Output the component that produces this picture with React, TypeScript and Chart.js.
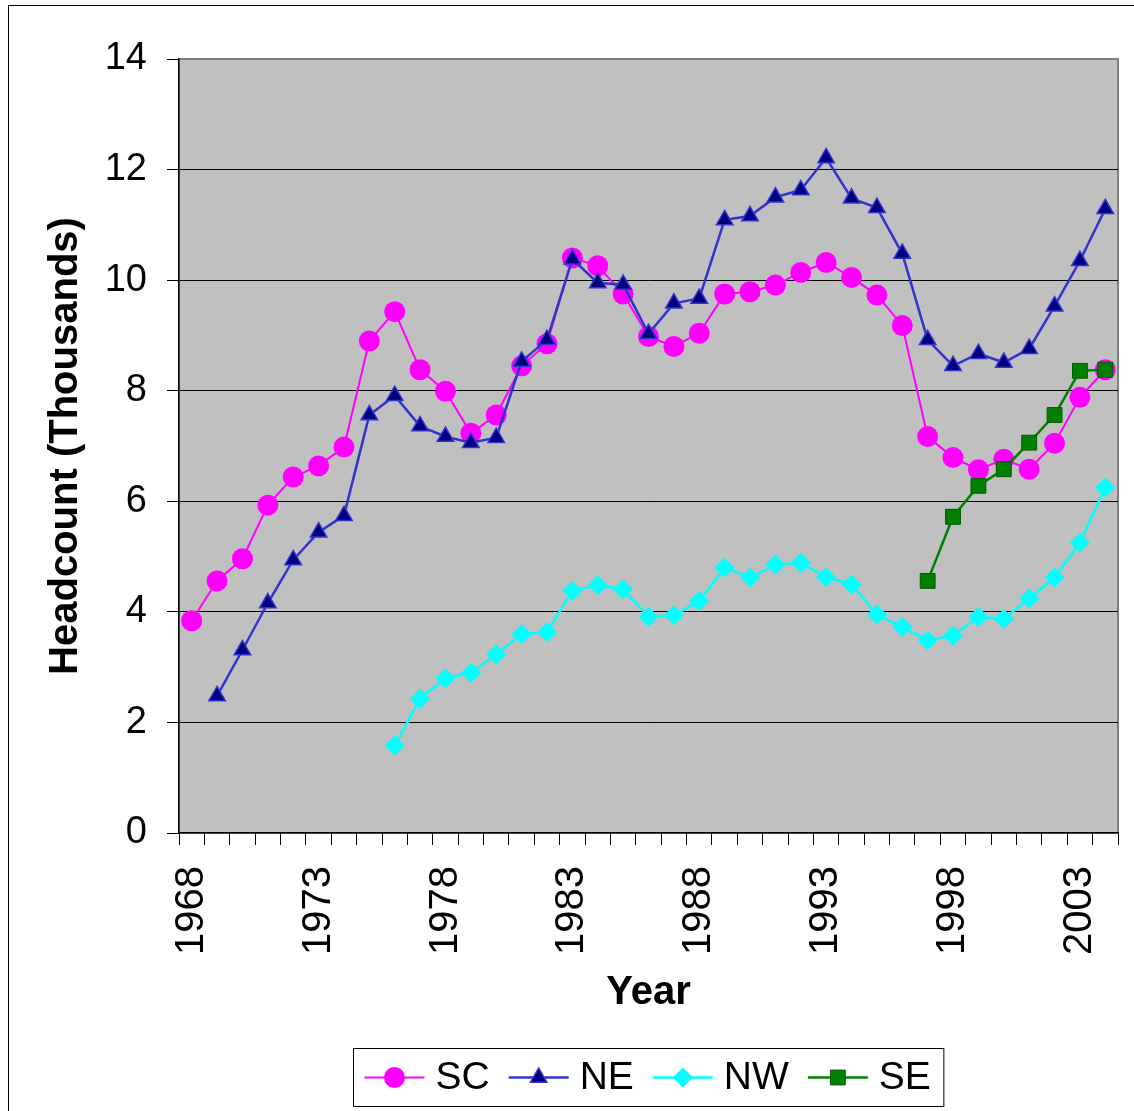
import React, { useEffect, useRef } from 'react';
import { Chart, registerables } from 'chart.js';

Chart.register(...registerables);

const years = [
  '1968', '1969', '1970', '1971', '1972', '1973', '1974', '1975', '1976', '1977',
  '1978', '1979', '1980', '1981', '1982', '1983', '1984', '1985', '1986', '1987',
  '1988', '1989', '1990', '1991', '1992', '1993', '1994', '1995', '1996', '1997',
  '1998', '1999', '2000', '2001', '2002', '2003', '2004',
];

const scValues = [
  3.84, 4.56, 4.96, 5.93, 6.44, 6.64, 6.98, 8.9, 9.43, 8.38,
  7.99, 7.23, 7.56, 8.45, 8.85, 10.4, 10.26, 9.75, 8.98, 8.8,
  9.04, 9.75, 9.79, 9.91, 10.14, 10.32, 10.05, 9.73, 9.18, 7.17,
  6.79, 6.57, 6.76, 6.58, 7.05, 7.88, 8.38,
];

const neValues = [
  null, 2.48, 3.31, 4.16, 4.94, 5.44, 5.74, 7.56, 7.91, 7.36,
  7.17, 7.06, 7.15, 8.53, 8.92, 10.38, 9.95, 9.92, 9.03, 9.58,
  9.67, 11.09, 11.16, 11.5, 11.63, 12.21, 11.48, 11.31, 10.48, 8.92,
  8.45, 8.67, 8.51, 8.76, 9.53, 10.35, 11.29,
];

const nwValues = [
  null, null, null, null, null, null, null, null, 1.58, 2.43,
  2.8, 2.9, 3.23, 3.6, 3.63, 4.38, 4.48, 4.41, 3.91, 3.94,
  4.19, 4.8, 4.62, 4.85, 4.89, 4.63, 4.5, 3.95, 3.73, 3.48,
  3.57, 3.91, 3.87, 4.24, 4.62, 5.25, 6.25,
];

const seValues = [
  null, null, null, null, null, null, null, null, null, null,
  null, null, null, null, null, null, null, null, null, null,
  null, null, null, null, null, null, null, null, null, 4.56,
  5.72, 6.28, 6.58, 7.06, 7.56, 8.36, 8.38,
];

const seriesLabels = ['SC', 'NE', 'NW', 'SE'];
const yTickValues = [0, 2, 4, 6, 8, 10, 12, 14];
const yTitle = 'Headcount (Thousands)';
const xTitle = 'Year';

const FONT = '"Liberation Sans", Arial, Helvetica, sans-serif';

function drawMarker(ctx: CanvasRenderingContext2D, style: string, x: number, y: number, r: number,
  fill: string, stroke: string, bw: number) {
  ctx.save();
  ctx.beginPath();
  if (style === 'circle') {
    ctx.arc(x, y, r, 0, Math.PI * 2);
  } else if (style === 'triangle') {
    for (let i = 0; i < 3; i++) {
      const a = (i * 2 * Math.PI) / 3;
      const px = x + Math.sin(a) * r;
      const py = y - Math.cos(a) * r;
      if (i === 0) ctx.moveTo(px, py); else ctx.lineTo(px, py);
    }
    ctx.closePath();
  } else if (style === 'rectRot') {
    ctx.moveTo(x, y - r);
    ctx.lineTo(x + r, y);
    ctx.lineTo(x, y + r);
    ctx.lineTo(x - r, y);
    ctx.closePath();
  } else {
    const s = r * Math.SQRT1_2;
    ctx.rect(x - s, y - s, 2 * s, 2 * s);
  }
  ctx.fillStyle = fill;
  ctx.fill();
  if (bw > 0) {
    ctx.lineWidth = bw;
    ctx.strokeStyle = stroke;
    ctx.stroke();
  }
  ctx.restore();
}

const plotBgPlugin = {
  id: 'plotBg',
  beforeDraw(chart: any) {
    const { ctx, chartArea } = chart;
    const { left, top, right, bottom } = chartArea;
    ctx.save();
    ctx.fillStyle = '#FFFFFF';
    ctx.fillRect(0, 0, chart.width, chart.height);
    ctx.fillStyle = '#C0C0C0';
    ctx.fillRect(left, top, right - left, bottom - top);
    ctx.strokeStyle = '#808080';
    ctx.lineWidth = 2;
    ctx.strokeRect(left, top, right - left, bottom - top);
    ctx.restore();
  },
  afterDraw(chart: any) {
    const { ctx } = chart;
    ctx.save();
    ctx.strokeStyle = '#000000';
    ctx.lineWidth = 1;
    ctx.strokeRect(8.5, 5.5, chart.width + 20, chart.height + 20);
    ctx.restore();
  },
};

const boxLegendPlugin = {
  id: 'boxLegend',
  afterDraw(chart: any) {
    const { ctx, chartArea } = chart;
    const datasets = chart.data.datasets;
    ctx.save();
    ctx.font = `39px ${FONT}`;
    const lineLen = 60;
    const gapText = 11;
    const gapItem = 19;
    const padL = 11;
    const padR = 13;
    const widths = datasets.map((ds: any) => ctx.measureText(ds.label).width);
    let total = padL + padR + gapItem * (datasets.length - 1);
    widths.forEach((w: number) => { total += lineLen + gapText + w; });
    const cx = (chartArea.left + chartArea.right) / 2;
    const boxLeft = Math.round(cx - total / 2) + 0.5;
    const boxTop = chartArea.bottom + 215.5;
    const boxH = 58;
    ctx.strokeStyle = '#000000';
    ctx.lineWidth = 1;
    ctx.strokeRect(boxLeft, boxTop, total, boxH);
    const cy = boxTop + boxH / 2;
    let x = boxLeft + padL;
    datasets.forEach((ds: any, i: number) => {
      ctx.beginPath();
      ctx.strokeStyle = ds.borderColor;
      ctx.lineWidth = ds.borderWidth;
      ctx.moveTo(x, cy);
      ctx.lineTo(x + lineLen, cy);
      ctx.stroke();
      drawMarker(ctx, ds.pointStyle, x + lineLen / 2, cy, ds.pointRadius,
        ds.pointBackgroundColor, ds.pointBorderColor, ds.pointBorderWidth);
      ctx.fillStyle = '#000000';
      ctx.textBaseline = 'middle';
      ctx.textAlign = 'left';
      ctx.fillText(ds.label, x + lineLen + gapText, cy + 1);
      x += lineLen + gapText + widths[i] + gapItem;
    });
    ctx.restore();
  },
};

export default function App() {
  const canvasRef = useRef<HTMLCanvasElement | null>(null);

  useEffect(() => {
    const canvas = canvasRef.current;
    if (!canvas) return;
    const chart = new Chart(canvas, {
      type: 'line',
      data: {
        labels: years,
        datasets: [
          {
            label: seriesLabels[0],
            data: scValues,
            borderColor: '#FF00FF',
            backgroundColor: '#FF00FF',
            borderWidth: 2,
            pointStyle: 'circle',
            pointRadius: 10.5,
            pointBackgroundColor: '#FF00FF',
            pointBorderColor: '#FF00FF',
            pointBorderWidth: 0,
            tension: 0,
            order: 4,
          },
          {
            label: seriesLabels[1],
            data: neValues,
            borderColor: '#3333CC',
            backgroundColor: '#000080',
            borderWidth: 2.5,
            pointStyle: 'triangle',
            pointRadius: 9.5,
            pointBackgroundColor: '#000080',
            pointBorderColor: '#3333CC',
            pointBorderWidth: 1.5,
            tension: 0,
            order: 3,
          },
          {
            label: seriesLabels[2],
            data: nwValues,
            borderColor: '#00FFFF',
            backgroundColor: '#00FFFF',
            borderWidth: 2.5,
            pointStyle: 'rectRot',
            pointRadius: 10,
            pointBackgroundColor: '#00FFFF',
            pointBorderColor: '#00FFFF',
            pointBorderWidth: 0,
            tension: 0,
            order: 2,
          },
          {
            label: seriesLabels[3],
            data: seValues,
            borderColor: '#008000',
            backgroundColor: '#008000',
            borderWidth: 2.5,
            pointStyle: 'rect',
            pointRadius: 10.5,
            pointBackgroundColor: '#008000',
            pointBorderColor: '#005A00',
            pointBorderWidth: 1,
            tension: 0,
            order: 1,
          },
        ],
      },
      options: {
        responsive: false,
        animation: false,
        devicePixelRatio: 1,
        events: [],
        layout: { padding: { top: 59, right: 16, bottom: 78, left: 0 } },
        plugins: {
          legend: { display: false },
          tooltip: { enabled: false },
          title: { display: false },
        },
        scales: {
          x: {
            type: 'category',
            offset: true,
            afterFit: (scale: any) => {
              scale.height = 200;
              scale.paddingLeft = 0;
              scale.paddingRight = 0;
            },
            grid: {
              display: true,
              drawOnChartArea: false,
              drawTicks: true,
              offset: true,
              tickLength: 12,
              color: '#000000',
              tickColor: '#000000',
              lineWidth: 1,
            },
            border: { display: true, color: '#000000', width: 1.5 },
            ticks: {
              autoSkip: false,
              maxRotation: 90,
              minRotation: 90,
              padding: 21,
              color: '#000000',
              font: { family: FONT, size: 40 },
              callback: (_v: any, idx: number) => (idx % 5 === 0 ? years[idx] : ''),
            },
            title: {
              display: true,
              text: xTitle,
              color: '#000000',
              font: { family: FONT, size: 40, weight: 'bold' },
              padding: { top: 0, bottom: 16 },
            },
          },
          y: {
            type: 'linear',
            min: yTickValues[0],
            max: yTickValues[yTickValues.length - 1],
            afterFit: (scale: any) => {
              scale.width = 179;
              scale.paddingTop = 0;
              scale.paddingBottom = 0;
            },
            afterBuildTicks: (scale: any) => {
              scale.ticks = yTickValues.map((v) => ({ value: v }));
            },
            grid: {
              display: true,
              drawTicks: true,
              tickLength: 12,
              color: (c: any) => (c.tick && (c.tick.value === 14 || c.tick.value === 0) ? 'rgba(0,0,0,0)' : '#000000'),
              tickColor: '#000000',
              lineWidth: 1,
            },
            border: { display: true, color: '#000000', width: 1.5 },
            ticks: {
              padding: 20,
              color: '#000000',
              font: { family: FONT, size: 38 },
            },
            title: {
              display: true,
              text: yTitle,
              color: '#000000',
              font: { family: FONT, size: 40, weight: 'bold' },
              padding: { top: 42, bottom: 0 },
            },
          },
        },
      },
      plugins: [plotBgPlugin, boxLegendPlugin],
    });
    return () => chart.destroy();
  }, []);

  return (
    <div style={{ position: 'fixed', left: 0, top: 0, width: 1134, height: 1111, background: '#FFFFFF' }}>
      <canvas ref={canvasRef} width={1134} height={1111} style={{ display: 'block' }} />
    </div>
  );
}
